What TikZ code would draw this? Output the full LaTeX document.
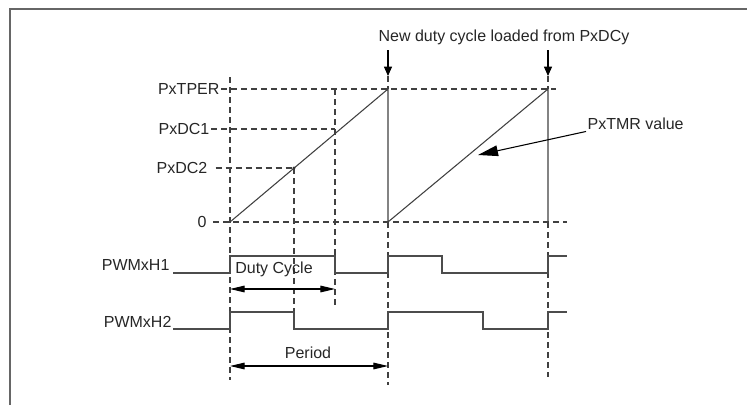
\documentclass[tikz,border=0pt]{standalone}
\usepackage{fontspec}
\setmainfont{Liberation Sans}
\usetikzlibrary{arrows.meta}
\begin{document}
\begin{tikzpicture}[x=0.75pt,y=-0.75pt,
  lbl/.style={font=\fontsize{12}{14}\selectfont, inner sep=1pt, text=black!85},
  dashln/.style={draw=black!75, line width=0.8pt, dash pattern=on 4.5pt off 3pt},
  solidln/.style={draw=black!75, line width=0.8pt},
  sig/.style={draw=black!70, line width=1pt},
  loadarrow/.style={draw=black, line width=0.8pt, -{Triangle[length=7pt,width=6pt]}},
  dimarrow/.style={draw=black, line width=0.8pt, {Triangle[length=11pt,width=5pt]}-{Triangle[length=11pt,width=5pt]}},
  ptrarrow/.style={draw=black, line width=0.8pt, -{Triangle[length=15pt,width=8pt]}},
  frame/.style={draw=black!60, line width=1.5pt}]
\useasboundingbox (0,0) rectangle (747,405);
% frame
\coordinate (f0) at (10,9);
\coordinate (f1) at (747,9);
\coordinate (f2) at (10,405);
\draw[frame] (f2) -- (f0) -- (f1);

% key points
\coordinate (a0) at (230,222);
\coordinate (aT) at (388,89);
\coordinate (b0) at (388,222);
\coordinate (bT) at (548,89);
\coordinate (d1) at (335,129);
\coordinate (d2) at (294,168);

% labels
\node[lbl, anchor=east] (lT) at (221,89) {PxTPER};
\node[lbl, anchor=east] (l1) at (211,129) {PxDC1};
\node[lbl, anchor=east] (l2) at (209,168) {PxDC2};
\node[lbl, anchor=east] (l0) at (208,222) {0};

% horizontal dashed
\coordinate (hT) at (556,89);
\coordinate (h0) at (567,222);
\draw[dashln] (lT.east) -- (hT);
\draw[dashln] (l1.east) -- (d1);
\draw[dashln] ([xshift=5pt]l2.east) -- (d2);
\draw[dashln] ([xshift=4pt]l0.east) -- (h0);

% vertical dashed
\coordinate (v0t) at (230,77);
\coordinate (v0b) at (230,380);
\draw[dashln] (v0t) -- (v0b);
\coordinate (v2b) at (294,330);
\draw[dashln] (d2) -- (v2b);
\coordinate (v1t) at (335,89);
\coordinate (v1b) at (335,307);
\draw[dashln] (v1t) -- (v1b);
\coordinate (v3t) at (388,76);
\coordinate (v3b) at (388,385);
\draw[dashln] (v3t) -- (aT);
\draw[dashln] (b0) -- (v3b);
\coordinate (v4t) at (548,76);
\coordinate (v4z) at (548,222);
\coordinate (v4b) at (548,377);
\draw[dashln] (v4t) -- (bT);
\draw[dashln] (v4z) -- (v4b);

% ramps
\draw[solidln] (a0) -- (aT) -- (b0) -- (bT) -- (v4z);
\fill[black!80] (d2) circle (1.2pt);

% load arrows
\node[lbl] (load) at (504,37) {New duty cycle loaded from PxDCy};
\coordinate (la1) at (388,50);
\coordinate (la2) at (548,50);
\draw[loadarrow] (la1) -- (v3t);
\draw[loadarrow] (la2) -- (v4t);

% PxTMR pointer
\node[lbl, anchor=west] (tmr) at (586,124) {PxTMR value};
\coordinate (tmrtip) at (478,155);
\draw[ptrarrow] (tmr.south west) -- (tmrtip);

% PWMxH1
\node[lbl, anchor=east] (h1) at (171,265) {PWMxH1};
\draw[sig] (173,273) -- (230,273) -- (230,256) -- (335,256) -- (335,273)
  -- (388,273) -- (388,256) -- (442,256) -- (442,273) -- (548,273)
  -- (548,256) -- (567,256);
% PWMxH2
\node[lbl, anchor=east] (h2) at (173,322) {PWMxH2};
\draw[sig] (173,329) -- (230,329) -- (230,312) -- (294,312) -- (294,329)
  -- (388,329) -- (388,312) -- (483,312) -- (483,329) -- (548,329)
  -- (548,312) -- (567,312);

% dimension arrows
\node[lbl] (dc) at (274,269) {Duty Cycle};
\coordinate (dca) at (230,289);
\coordinate (dcb) at (335,289);
\draw[dimarrow] (dca) -- (dcb);
\node[lbl] (per) at (308,353) {Period};
\coordinate (pa) at (230,366);
\coordinate (pb) at (388,366);
\draw[dimarrow] (pa) -- (pb);
\end{tikzpicture}
\end{document}
